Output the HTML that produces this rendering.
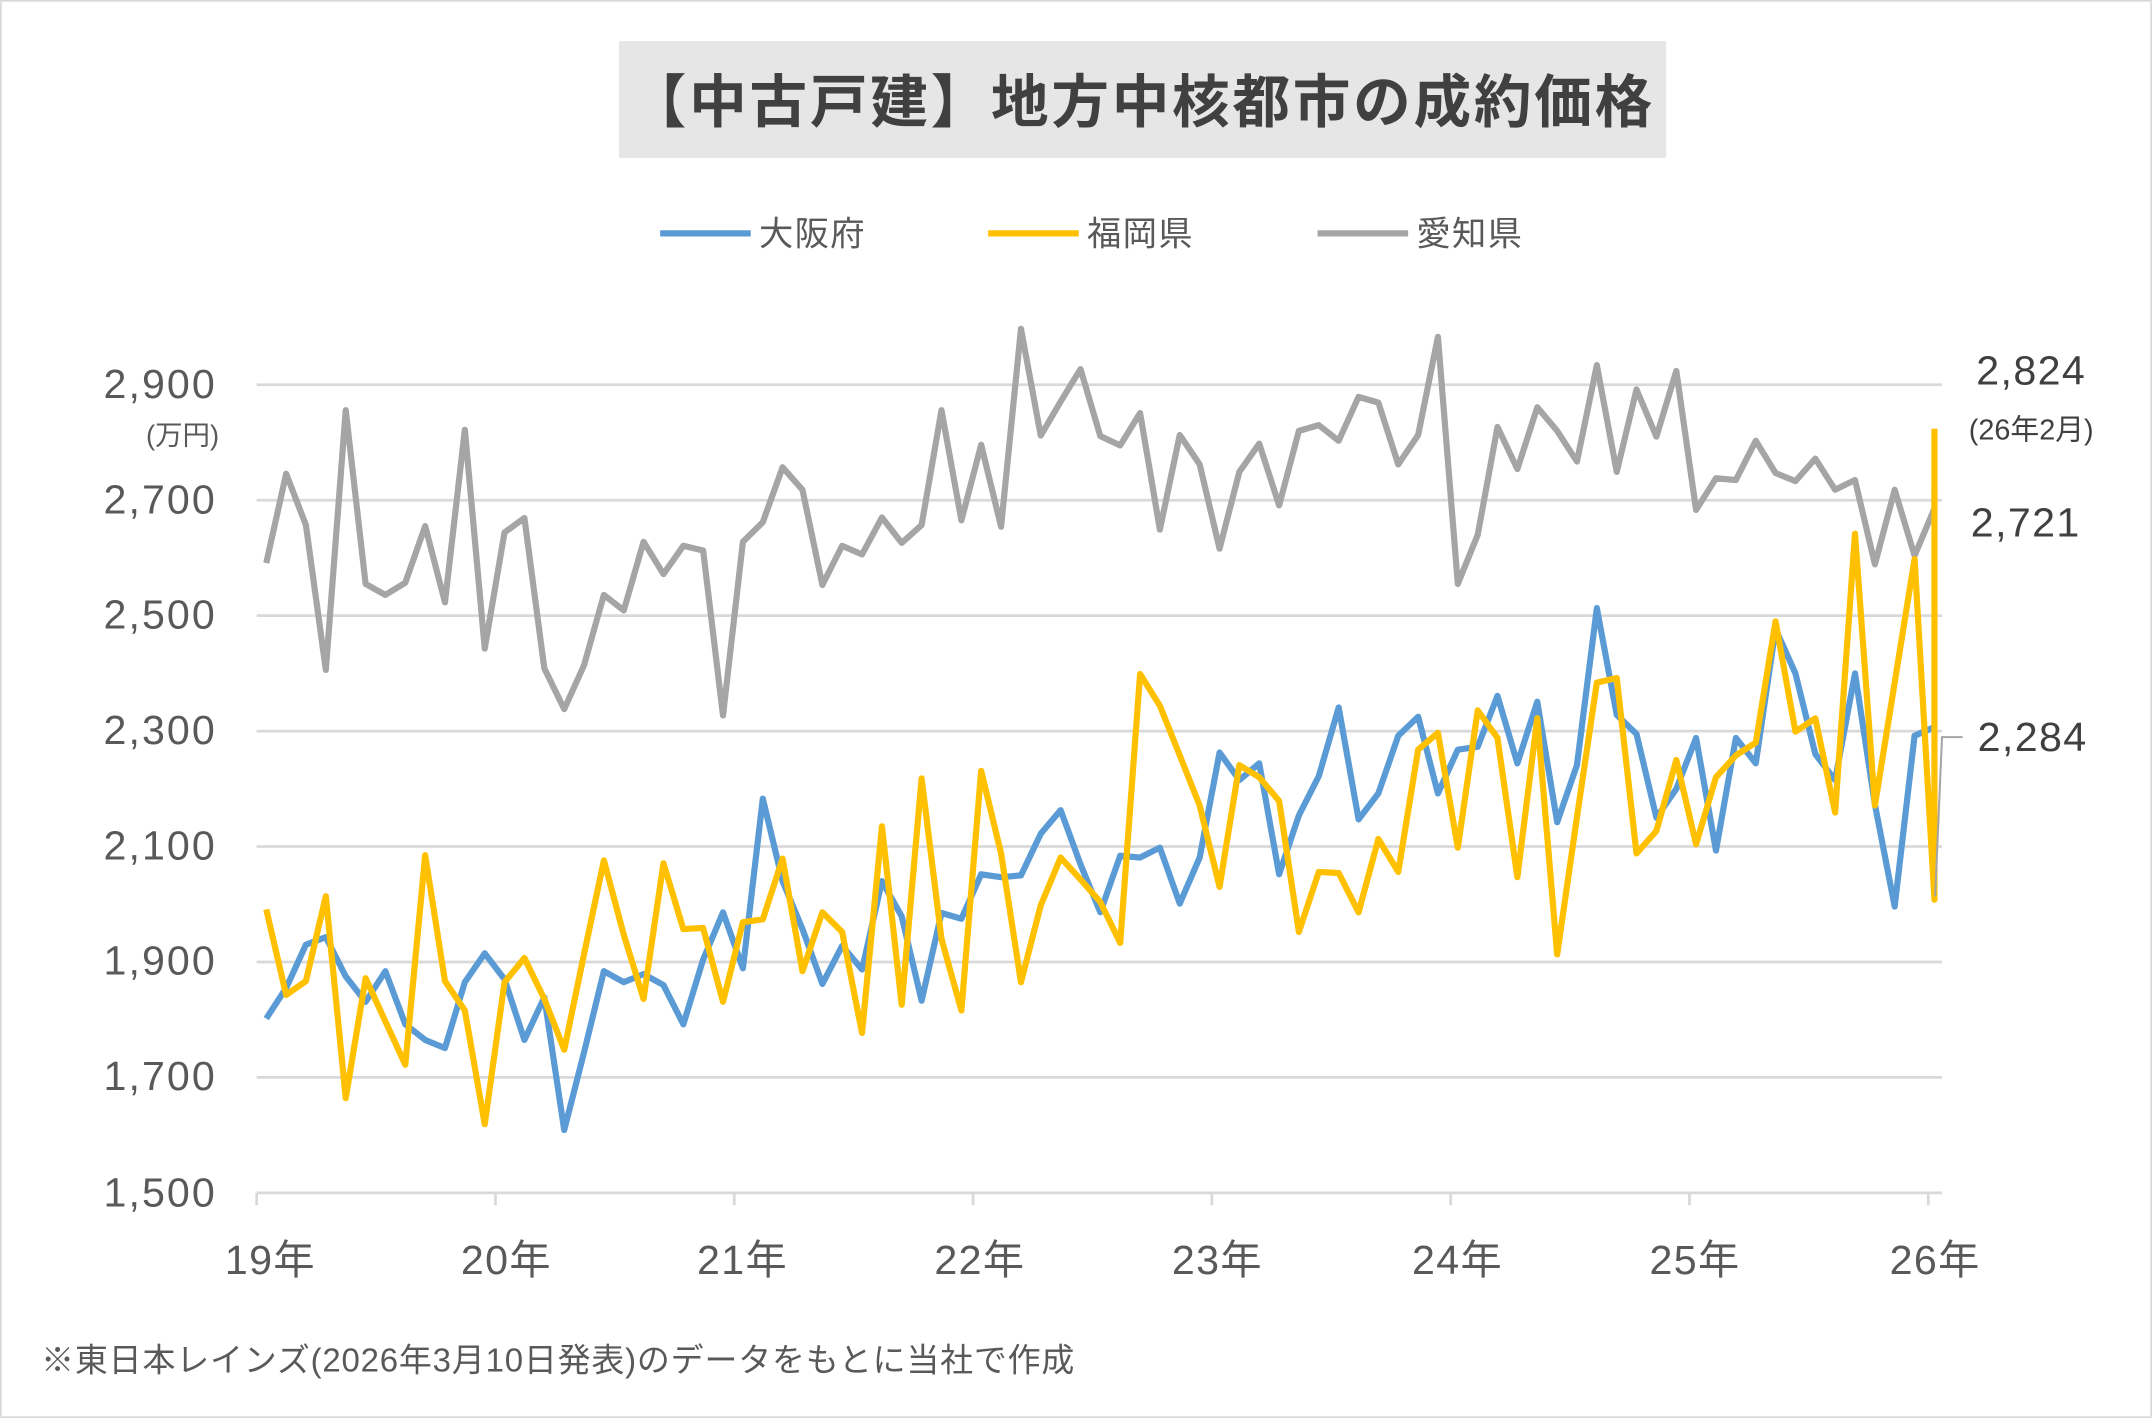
<!DOCTYPE html>
<html><head><meta charset="utf-8"><style>
html,body{margin:0;padding:0;background:#fff}
svg{display:block}
text{font-family:"Liberation Sans","Noto Sans CJK JP",sans-serif;fill:#595959}
</style></head><body>
<svg id="s" width="2152" height="1418" viewBox="0 0 1568 1033" preserveAspectRatio="none" xmlns="http://www.w3.org/2000/svg">
<rect x="0.5" y="0.5" width="1567" height="1032" fill="#fff" stroke="#d9d9d9" stroke-width="1.5"/>
<rect x="451" y="30" width="763" height="85" fill="#e7e6e6"/>
<text x="832" y="89" text-anchor="middle" font-size="42" font-weight="bold" letter-spacing="2" style="fill:#404040">【中古戸建】地方中核都市の成約価格</text>
<line x1="481" y1="170" x2="547" y2="170" stroke="#5b9bd5" stroke-width="4.5"/>
<text x="553" y="179" font-size="25" letter-spacing="1">大阪府</text>
<line x1="720" y1="170" x2="786" y2="170" stroke="#ffc000" stroke-width="4.5"/>
<text x="792" y="179" font-size="25" letter-spacing="1">福岡県</text>
<line x1="960" y1="170" x2="1026" y2="170" stroke="#a5a5a5" stroke-width="4.5"/>
<text x="1032" y="179" font-size="25" letter-spacing="1">愛知県</text>
<g id="grid" stroke="#d9d9d9" stroke-width="2"></g>
<g font-size="30" text-anchor="end" letter-spacing="1.5">
<text x="158" y="290">2,900</text><text x="158" y="374">2,700</text><text x="158" y="458">2,500</text>
<text x="158" y="542">2,300</text><text x="158" y="626">2,100</text><text x="158" y="710">1,900</text>
<text x="158" y="794">1,700</text><text x="158" y="879">1,500</text>
</g>
<text x="133" y="324" font-size="20" text-anchor="middle">(万円)</text>
<line x1="187" y1="869" x2="1415" y2="869" stroke="#d9d9d9" stroke-width="2"/>
<g id="ticks" stroke="#d9d9d9" stroke-width="2"></g>
<g font-size="30" text-anchor="middle" letter-spacing="1">
<text x="197" y="928">19年</text><text x="369" y="928">20年</text><text x="541" y="928">21年</text>
<text x="714" y="928">22年</text><text x="887" y="928">23年</text><text x="1062" y="928">24年</text>
<text x="1235" y="928">25年</text><text x="1410" y="928">26年</text>
</g>
<g id="series" fill="none" stroke-linejoin="round" stroke-width="4.5"></g>
<polyline points="1410,653 1415,537 1430,537" fill="none" stroke="#a5a5a5" stroke-width="1.5"/>
<text x="1480" y="280" font-size="30" letter-spacing="1" text-anchor="middle" style="fill:#404040">2,824</text>
<text x="1480" y="320" font-size="21" text-anchor="middle" style="fill:#404040">(26年2月)</text>
<text x="1476" y="391" font-size="30" letter-spacing="1" text-anchor="middle" style="fill:#404040">2,721</text>
<text x="1481" y="547" font-size="30" letter-spacing="1" text-anchor="middle" style="fill:#404040">2,284</text>
<text x="30" y="999" font-size="24" letter-spacing="0.6">※東日本レインズ(2026年3月10日発表)のデータをもとに当社で作成</text>
</svg>
<script>
var NS="http://www.w3.org/2000/svg";
function Y(v){return 869-(v-1500)/200*84.1;}
function X(i){return 194+i*14.47;}
var g=document.getElementById('grid');
for(var v=1700;v<=2900;v+=200){var l=document.createElementNS(NS,'line');l.setAttribute('x1',187);l.setAttribute('x2',1415);l.setAttribute('y1',Y(v));l.setAttribute('y2',Y(v));g.appendChild(l);}
var t=document.getElementById('ticks');
for(var k=0;k<8;k++){var x=187+174*k;var l=document.createElementNS(NS,'line');l.setAttribute('x1',x);l.setAttribute('x2',x);l.setAttribute('y1',869);l.setAttribute('y2',878);t.appendChild(l);}
var gray=[2591,2746,2657,2406,2856,2555,2536,2557,2655,2523,2822,2443,2644,2669,2409,2338,2414,2536,2509,2628,2572,2621,2613,2327,2628,2662,2757,2718,2553,2621,2606,2670,2626,2657,2856,2665,2796,2654,2997,2812,2871,2927,2811,2795,2851,2649,2813,2762,2616,2749,2798,2691,2820,2830,2803,2879,2869,2762,2813,2983,2555,2640,2827,2754,2861,2820,2767,2934,2749,2892,2810,2924,2683,2738,2735,2803,2747,2733,2772,2718,2735,2589,2718,2604,2686,2721];
var blue=[1802,1855,1930,1943,1875,1831,1884,1792,1765,1751,1865,1915,1870,1765,1839,1609,1743,1884,1865,1879,1860,1792,1904,1986,1889,2183,2040,1957,1862,1928,1887,2040,1979,1833,1985,1975,2052,2047,2050,2122,2163,2069,1986,2084,2081,2098,2001,2081,2263,2215,2244,2052,2154,2222,2341,2147,2192,2292,2325,2192,2268,2273,2361,2244,2351,2142,2241,2513,2328,2295,2150,2200,2288,2093,2288,2244,2477,2400,2260,2215,2400,2173,1996,2292,2307];
var yel=[1991,1843,1867,2014,1664,1872,1797,1722,2085,1867,1816,1619,1865,1907,1836,1748,1913,2076,1947,1836,2071,1957,1959,1831,1969,1974,2079,1884,1986,1952,1777,2135,1826,2218,1940,1816,2231,2088,1865,1998,2081,2043,2004,1933,2399,2344,2258,2171,2030,2241,2220,2179,1952,2056,2054,1986,2113,2056,2268,2297,2098,2336,2288,2047,2322,1913,2151,2384,2392,2088,2127,2250,2104,2220,2258,2280,2490,2299,2322,2159,2642,2171,2384,2598,2008,2824];
var s=document.getElementById('series');
function add(d,c){var p=[];for(var i=0;i<d.length;i++){var xi=Math.min(i,84);p.push(X(xi).toFixed(1)+','+Math.max(238,Y(d[i])).toFixed(1));}
var pl=document.createElementNS(NS,'polyline');pl.setAttribute('points',p.join(' '));pl.setAttribute('stroke',c);s.appendChild(pl);}
add(gray,'#a5a5a5');add(blue,'#5b9bd5');add(yel,'#ffc000');
</script>
</body></html>
